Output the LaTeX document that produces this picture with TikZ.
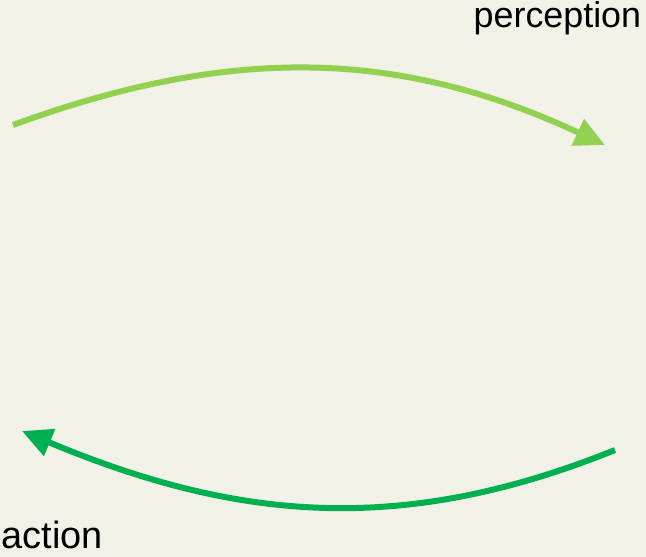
\documentclass[tikz,border=0pt]{standalone}
\usepackage{fontspec}
\setmainfont{Liberation Sans}
\usepackage{tikz}
\usetikzlibrary{arrows.meta}
\definecolor{loopback}{RGB}{242,241,232}
\definecolor{perceptgreen}{RGB}{146,208,80}
\definecolor{actiongreen}{RGB}{0,176,80}

\begin{document}
\begin{tikzpicture}[
    looparrow/.style={line width=0.06cm,-{Triangle[length=0.3cm,width=0.28cm]}},
    looplabel/.style={inner sep=0pt,font=\fontsize{10.2}{12}\selectfont}
  ]
        \fill[loopback](0,0) rectangle (6.46,5.57);
        \useasboundingbox (0,0) rectangle (6.46,5.57);
        % ends of the two arcs
        \coordinate (pstart) at (0.13,4.32);
        \coordinate (pend) at (6.05,4.12);
        \coordinate (astart) at (6.15,1.07);
        \coordinate (aend) at (0.22,1.26);
        \draw[looparrow,perceptgreen] (pstart) .. controls (2.29,5.11) and (3.97,5.09) .. (pend);
        \draw[looparrow,actiongreen] (astart) .. controls (4.02,0.21) and (2.37,0.36) .. (aend);
        \node[looplabel,anchor=base west] (perception) at (4.73,5.29) {perception};
        \node[looplabel,anchor=base west,font=\fontsize{10.8}{13}\selectfont] (action) at (0.01,0.08) {action};
      \end{tikzpicture}
\end{document}
